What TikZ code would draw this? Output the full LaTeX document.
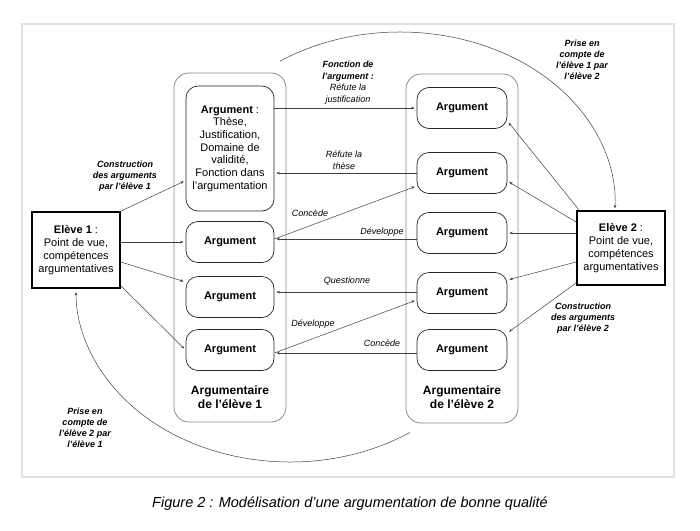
\documentclass[tikz,border=0pt]{standalone}
\usepackage{fontspec}
\setmainfont{Liberation Sans}
\usetikzlibrary{arrows.meta,calc}
\begin{document}
\begin{tikzpicture}[x=1pt,y=-1pt,
  arr/.style={draw=black!75,line width=0.5pt,-{Stealth[length=3.5pt,width=2.6pt]},shorten >=2pt},
  argbox/.style={draw=black!85,line width=0.7pt,rounded corners=12pt,minimum height=41pt,inner sep=0pt,
    font=\fontsize{11}{13}\selectfont\bfseries,align=center},
  colbox/.style={draw=black!45,line width=0.8pt,rounded corners=15pt,minimum width=112pt,minimum height=349pt,inner sep=0pt},
  elevebox/.style={draw=black,line width=1.8pt,minimum width=88pt,inner sep=0pt,
    font=\fontsize{11}{13}\selectfont,align=center},
  coltitle/.style={font=\fontsize{12}{13.5}\selectfont\bfseries,align=center},
  biglab/.style={font=\fontsize{9}{11}\selectfont\bfseries\itshape,align=center},
  edgelab/.style={font=\fontsize{9}{11.5}\selectfont\itshape,align=center,inner sep=0pt}
]
\useasboundingbox (0,0) rectangle (700,530);
\draw[black!12,line width=1.3pt] (22,24) rectangle (674,477);

% containers
\node[colbox] (col1) at (230,247.5) {};
\node[colbox] (col2) at (462,248.5) {};
\node[coltitle] (t1) at (230,397) {Argumentaire\\de l’élève 1};
\node[coltitle] (t2) at (462,397) {Argumentaire\\de l’élève 2};

% column 1
\node[argbox,minimum width=88pt,minimum height=125pt,font=\fontsize{11}{12.7}\selectfont] (big) at (230,148.5)
  {\textbf{Argument} :\\Thèse,\\Justification,\\Domaine de\\validité,\\Fonction dans\\l'argumentation};
\node[argbox,minimum width=88pt] (c1a1) at (230,242) {Argument};
\node[argbox,minimum width=88pt] (c1a2) at (230,297) {Argument};
\node[argbox,minimum width=88pt] (c1a3) at (230,350) {Argument};

% column 2
\node[argbox,minimum width=90pt] (c2a1) at (462,108) {Argument};
\node[argbox,minimum width=90pt] (c2a2) at (462,173) {Argument};
\node[argbox,minimum width=90pt] (c2a3) at (462,233) {Argument};
\node[argbox,minimum width=90pt] (c2a4) at (462,293) {Argument};
\node[argbox,minimum width=90pt] (c2a5) at (462,350) {Argument};

% students
\node[elevebox,minimum height=76pt] (e1) at (76,250) {\textbf{Elève 1} :\\Point de vue,\\compétences\\argumentatives};
\node[elevebox,minimum height=74pt] (e2) at (621,248) {\textbf{Elève 2} :\\Point de vue,\\compétences\\argumentatives};

% student 1 -> arguments
\draw[arr] (e1.north east) -- ([yshift=-32pt]big.west);
\draw[arr] ([yshift=8pt]e1.east) -- (c1a1.west);
\draw[arr] ([yshift=-12pt]e1.east) -- ([yshift=15pt]c1a2.west);
\draw[arr] ([yshift=3pt]e1.south east) -- (c1a3.west);
\node[biglab] (lab1) at (125,176) {Construction\\des arguments\\par l’élève 1};

% student 2 -> arguments
\draw[arr] ([xshift=3pt]e2.north west) -- ([yshift=-13pt]c2a1.east);
\draw[arr] ([yshift=26pt]e2.west) -- ([yshift=-8pt]c2a2.east);
\draw[arr] ([yshift=15pt]e2.west) -- (c2a3.east);
\draw[arr] ([yshift=-14pt]e2.west) -- ([yshift=13pt]c2a4.east);
\draw[arr] ([yshift=3pt]e2.south west) -- ([yshift=17pt]c2a5.east);
\node[biglab] (lab2) at (583,318) {Construction\\des arguments\\par l’élève 2};

% between columns
\draw[arr] ([yshift=40.5pt]big.east) -- (c2a1.west);
\node[edgelab] (f1) at (348,82.5) {\textbf{Fonction de}\\\textbf{l’argument :}\\Réfute la\\justification};
\draw[arr] (c2a2.west) -- ([yshift=-24.5pt]big.east);
\node[edgelab] (f2) at (344,160) {Réfute la\\thèse};
\draw[arr] ([yshift=3pt]c1a1.east) -- ([yshift=-13pt]c2a2.west);
\node[edgelab] (f3) at (310,213) {Concède};
\draw[arr] ([yshift=-6pt]c2a3.west) -- ([yshift=3pt]c1a1.east);
\node[edgelab] (f4) at (382,232) {Développe};
\draw[arr] ([yshift=1pt]c2a4.west) -- ([yshift=5pt]c1a2.east);
\node[edgelab] (f5) at (347,281) {Questionne};
\draw[arr] ([yshift=-3pt]c1a3.east) -- ([yshift=-7pt]c2a4.west);
\node[edgelab] (f6) at (313,324) {Développe};
\draw[arr] ([yshift=-3pt]c2a5.west) -- ([yshift=-3pt]c1a3.east);
\node[edgelab] (f7) at (382,343) {Concède};

% big arcs
\coordinate (tc) at (400,203);
\coordinate (bc) at (290,290);
\draw[arr] ($(tc)+(123.9:215pt and 171pt)$) arc[start angle=123.9,end angle=-2.5,x radius=215pt,y radius=171pt];
\node[biglab] (p1) at (582,60) {Prise en\\compte de\\l’élève 1 par\\l’élève 2};
\draw[arr] ($(bc)+(-55.9:214pt and 172pt)$) arc[start angle=-55.9,end angle=-180,x radius=214pt,y radius=172pt];
\node[biglab] (p2) at (85,428) {Prise en\\compte de\\l’élève 2 par\\l’élève 1};

% caption
\node[font=\fontsize{14.5}{16}\selectfont\itshape] (cap) at (350,504) {Figure 2 : Modélisation d'une argumentation de bonne qualité};
\end{tikzpicture}
\end{document}
